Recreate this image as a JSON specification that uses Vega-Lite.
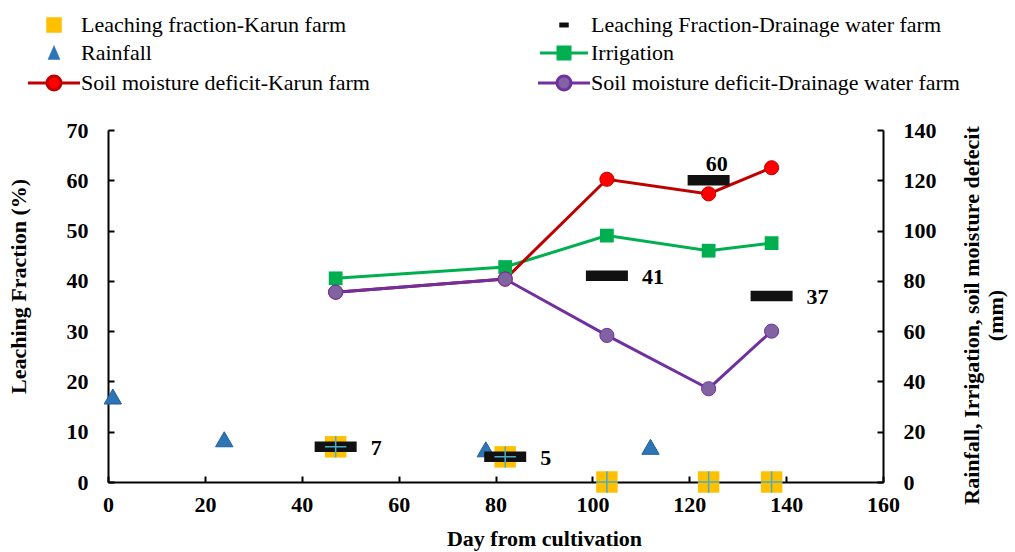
{
  "$schema": "https://vega.github.io/schema/vega-lite/v6.json",
  "autosize": {"type": "none"},
  "width": 775,
  "height": 352,
  "padding": {"left": 108, "top": 130, "right": 132, "bottom": 70},
  "background": "white",
  "config": {
    "font": "Liberation Serif",
    "view": {"stroke": null},
    "axis": {
      "grid": false,
      "domainColor": "black",
      "domainWidth": 2,
      "tickColor": "black",
      "tickWidth": 2,
      "tickSize": -6,
      "labelFlush": false,
      "labelFont": "Liberation Serif",
      "labelFontSize": 22,
      "labelFontWeight": "bold",
      "labelColor": "black",
      "titleFont": "Liberation Serif",
      "titleFontSize": 22,
      "titleFontWeight": "bold",
      "titleColor": "black"
    }
  },
  "data": {
    "values": [
      {"series": "Leaching fraction-Karun farm", "day": 47, "value": 7},
      {"series": "Leaching fraction-Karun farm", "day": 82, "value": 5},
      {"series": "Leaching fraction-Karun farm", "day": 103, "value": 0},
      {"series": "Leaching fraction-Karun farm", "day": 124, "value": 0},
      {"series": "Leaching fraction-Karun farm", "day": 137, "value": 0},
      {"series": "Leaching Fraction-Drainage water farm", "day": 47, "value": 7},
      {"series": "Leaching Fraction-Drainage water farm", "day": 82, "value": 5},
      {"series": "Leaching Fraction-Drainage water farm", "day": 103, "value": 41},
      {"series": "Leaching Fraction-Drainage water farm", "day": 124, "value": 60},
      {"series": "Leaching Fraction-Drainage water farm", "day": 137, "value": 37},
      {"series": "Rainfall", "day": 1, "value": 34},
      {"series": "Rainfall", "day": 24, "value": 17},
      {"series": "Rainfall", "day": 78, "value": 13},
      {"series": "Rainfall", "day": 112, "value": 14},
      {"series": "Irrigation", "day": 47, "value": 81},
      {"series": "Irrigation", "day": 82, "value": 85.5},
      {"series": "Irrigation", "day": 103, "value": 98},
      {"series": "Irrigation", "day": 124, "value": 92},
      {"series": "Irrigation", "day": 137, "value": 95},
      {"series": "Soil moisture deficit-Karun farm", "day": 47, "value": 75.5},
      {"series": "Soil moisture deficit-Karun farm", "day": 82, "value": 80.7},
      {"series": "Soil moisture deficit-Karun farm", "day": 103, "value": 120.4},
      {"series": "Soil moisture deficit-Karun farm", "day": 124, "value": 114.6},
      {"series": "Soil moisture deficit-Karun farm", "day": 137, "value": 125},
      {"series": "Soil moisture deficit-Drainage water farm", "day": 47, "value": 75.5},
      {"series": "Soil moisture deficit-Drainage water farm", "day": 82, "value": 80.7},
      {"series": "Soil moisture deficit-Drainage water farm", "day": 103, "value": 58.3},
      {"series": "Soil moisture deficit-Drainage water farm", "day": 124, "value": 37.1},
      {"series": "Soil moisture deficit-Drainage water farm", "day": 137, "value": 60}
    ]
  },
  "encoding": {
    "x": {
      "field": "day", "type": "quantitative",
      "scale": {"domain": [0, 160], "nice": false, "zero": false},
      "axis": {
        "title": "Day from cultivation",
        "values": [0, 20, 40, 60, 80, 100, 120, 140, 160],
        "labelPadding": 18,
        "titlePadding": 13,
        "titleX": 436
      }
    }
  },
  "layer": [
    {
      "encoding": {
        "y": {
          "field": "value", "type": "quantitative",
          "scale": {"domain": [0, 140], "nice": false},
          "axis": {
            "orient": "right",
            "values": [0, 20, 40, 60, 80, 100, 120, 140],
            "labelPadding": 26,
            "title": ["Rainfall, Irrigation, soil moisture defecit", "(mm)"],
            "titleAngle": 270,
            "titleBaseline": "top",
            "titleAlign": "center",
            "titleLineHeight": 24,
            "titlePadding": 1,
            "titleY": 185
          }
        },
        "color": {
          "field": "series", "type": "nominal",
          "scale": {
            "domain": ["Leaching fraction-Karun farm", "Leaching Fraction-Drainage water farm", "Rainfall", "Irrigation", "Soil moisture deficit-Karun farm", "Soil moisture deficit-Drainage water farm"],
            "range": ["#FFC000", "#111111", "#2E75B6", "#00B050", "#C00000", "#7030A0"]
          },
          "legend": {
            "title": null,
            "orient": "none",
            "direction": "horizontal",
            "legendX": -65,
            "legendY": -116,
            "columns": 2,
            "columnPadding": 162,
            "rowPadding": 5,
            "padding": 0,
            "labelFont": "Liberation Serif",
            "labelFontSize": 22,
            "labelColor": "black",
            "labelLimit": 600,
            "labelOffset": 16,
            "symbolSize": 400,
            "encode": {
              "symbols": {
                "update": {
                  "shape": {"signal": "datum.value === 'Leaching fraction-Karun farm' ? 'M-0.7,-0.7H0.7V0.7H-0.7ZM0,-0.7V0.7M-0.7,0H0.7' : datum.value === 'Leaching Fraction-Drainage water farm' ? 'M-0.45,-0.22H0.45V0.22H-0.45Z' : datum.value === 'Rainfall' ? 'M0,-0.75L0.6,0.65L-0.6,0.65Z' : datum.value === 'Irrigation' ? 'M-2.4,0H-0.6M0.6,0H2.4M-0.6,-0.6H0.6V0.6H-0.6Z' : 'M-2.6,0H-0.7M0.7,0H2.6M0.7,0A0.7,0.7 0 1 1 -0.7,0A0.7,0.7 0 1 1 0.7,0Z'"},
                  "fill": {"signal": "datum.value === 'Leaching fraction-Karun farm' ? '#FFC000' : datum.value === 'Leaching Fraction-Drainage water farm' ? '#111111' : datum.value === 'Rainfall' ? '#2E75B6' : datum.value === 'Irrigation' ? '#00B050' : datum.value === 'Soil moisture deficit-Karun farm' ? '#FF0000' : '#8064A2'"},
                  "stroke": {"signal": "datum.value === 'Leaching fraction-Karun farm' ? '#5BA8D0' : datum.value === 'Leaching Fraction-Drainage water farm' ? '#111111' : datum.value === 'Rainfall' ? '#2E75B6' : datum.value === 'Irrigation' ? '#00B050' : datum.value === 'Soil moisture deficit-Karun farm' ? '#C00000' : '#7030A0'"},
                  "strokeWidth": {"signal": "indexof(['Irrigation','Soil moisture deficit-Karun farm','Soil moisture deficit-Drainage water farm'], datum.value) >= 0 ? 3 : datum.value === 'Leaching fraction-Karun farm' ? 1.5 : 0.5"},
                  "opacity": {"value": 1},
                  "fillOpacity": {"value": 1},
                  "strokeOpacity": {"value": 1}
                }
              }
            }
          }
        }
      },
      "layer": [
        {
          "transform": [{"filter": "datum.series === 'Irrigation'"}],
          "mark": {"type": "line", "strokeWidth": 3}
        },
        {
          "transform": [{"filter": "datum.series === 'Soil moisture deficit-Karun farm'"}],
          "mark": {"type": "line", "strokeWidth": 3}
        },
        {
          "transform": [{"filter": "datum.series === 'Soil moisture deficit-Drainage water farm'"}],
          "mark": {"type": "line", "strokeWidth": 3}
        },
        {
          "transform": [{"filter": "datum.series === 'Irrigation'"}],
          "mark": {"type": "point", "shape": "square", "size": 190, "filled": true, "fill": "#00B050", "opacity": 1, "strokeWidth": 0},
          "encoding": {"color": {"value": "#00B050"}}
        },
        {
          "transform": [{"filter": "datum.series === 'Soil moisture deficit-Karun farm'"}],
          "mark": {"type": "point", "shape": "circle", "size": 200, "filled": true, "fill": "#FF0000", "stroke": "#C00000", "strokeWidth": 1, "opacity": 1},
          "encoding": {"color": {"value": "#FF0000"}}
        },
        {
          "transform": [{"filter": "datum.series === 'Soil moisture deficit-Drainage water farm'"}],
          "mark": {"type": "point", "shape": "circle", "size": 200, "filled": true, "fill": "#8064A2", "stroke": "#7030A0", "strokeWidth": 1, "opacity": 1},
          "encoding": {"color": {"value": "#8064A2"}}
        },
        {
          "transform": [{"filter": "datum.series === 'Rainfall'"}],
          "mark": {"type": "point", "shape": "triangle-up", "size": 300, "filled": true, "fill": "#2E75B6", "stroke": "#1F5F9E", "strokeWidth": 1, "opacity": 1},
          "encoding": {"color": {"value": "#2E75B6"}}
        }
      ]
    },
    {
      "encoding": {
        "y": {
          "field": "value", "type": "quantitative",
          "scale": {"domain": [0, 70], "nice": false},
          "axis": {
            "orient": "left",
            "values": [0, 10, 20, 30, 40, 50, 60, 70],
            "labelPadding": 26,
            "title": "Leaching Fraction (%)",
            "titlePadding": 36,
            "titleY": 156
          }
        }
      },
      "layer": [
        {
          "transform": [{"filter": "datum.series === 'Leaching fraction-Karun farm'"}],
          "mark": {"type": "point", "shape": "square", "size": 460, "filled": true, "fill": "#FFC000", "strokeWidth": 0, "opacity": 1}
        },
        {
          "transform": [{"filter": "datum.series === 'Leaching Fraction-Drainage water farm'"}],
          "mark": {"type": "point", "shape": "M-1,-0.25H1V0.25H-1Z", "size": 1764, "filled": true, "fill": "#111111", "strokeWidth": 0, "opacity": 1}
        },
        {
          "transform": [{"filter": "datum.series === 'Leaching fraction-Karun farm'"}],
          "mark": {"type": "point", "shape": "M0,-1V1M-1,0H1", "size": 460, "filled": false, "stroke": "#4BACC6", "strokeWidth": 1.5, "opacity": 1}
        },
        {
          "transform": [{"filter": "datum.series === 'Leaching Fraction-Drainage water farm' && datum.value !== 60"}],
          "mark": {"type": "text", "align": "left", "baseline": "middle", "dx": 35, "dy": 1, "fontSize": 22, "fontWeight": "bold", "font": "Liberation Serif", "color": "black"},
          "encoding": {"text": {"field": "value", "type": "quantitative"}}
        },
        {
          "transform": [{"filter": "datum.series === 'Leaching Fraction-Drainage water farm' && datum.value === 60"}],
          "mark": {"type": "text", "align": "center", "baseline": "middle", "dx": 8, "dy": -16, "fontSize": 22, "fontWeight": "bold", "font": "Liberation Serif", "color": "black"},
          "encoding": {"text": {"field": "value", "type": "quantitative"}}
        }
      ]
    }
  ],
  "resolve": {"scale": {"y": "independent"}}
}
